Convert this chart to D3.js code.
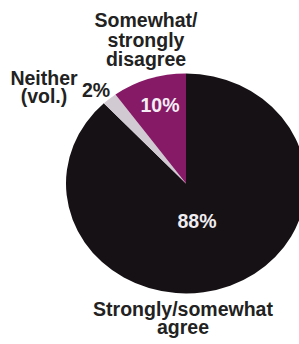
<!DOCTYPE html>
<html><head><meta charset="utf-8">
<script src="https://cdn.jsdelivr.net/npm/d3@7"></script>
<style>html,body{margin:0;padding:0;background:#fff;}svg{display:block;}</style>
</head><body>
<svg id="c" width="299" height="344"></svg>
<script>
const categories = ["Strongly/somewhat agree", "Neither (vol.)", "Somewhat/strongly disagree"];
const values = [88, 2, 10];
const valueLabels = ["88%", "2%", "10%"];
const colors = ["#151114", "#d2cad2", "#861a66"];

const svg = d3.select("#c");
const cx = 186, cy = 183.5, r = 110, sx = 120 / 110;
const g = svg.append("g").attr("transform", `translate(${cx},${cy}) scale(${sx},1)`);
const pie = d3.pie().sort(null).value(d => d)(values);
const arc = d3.arc().innerRadius(0).outerRadius(r);
g.selectAll("path").data(pie).enter().append("path")
  .attr("d", arc).attr("fill", (d, i) => colors[i]);

const font = "'Liberation Sans', Arial, Helvetica, sans-serif";
function txt(x, y, s, fill, size) {
  svg.append("text").attr("x", x).attr("y", y).text(s)
    .attr("font-family", font).attr("font-weight", "bold")
    .attr("font-size", size).attr("fill", fill)
    .attr("text-anchor", "middle");
}
// in-slice labels
txt(197, 228, valueLabels[0], "#f0ecf0", 19.5);
txt(160, 112, valueLabels[2], "#f4eef4", 19.5);
txt(96, 97, valueLabels[1], "#222", 19.5);
// category labels
txt(146, 27, "Somewhat/", "#222", 19.5);
txt(146, 47, "strongly", "#222", 19.5);
txt(146, 66, "disagree", "#222", 19.5);
txt(44, 85, "Neither", "#222", 19.5);
txt(44, 103, "(vol.)", "#222", 19.5);
txt(183, 316, "Strongly/somewhat", "#222", 19.5);
txt(183, 334, "agree", "#222", 19.5);
</script>
</body></html>
